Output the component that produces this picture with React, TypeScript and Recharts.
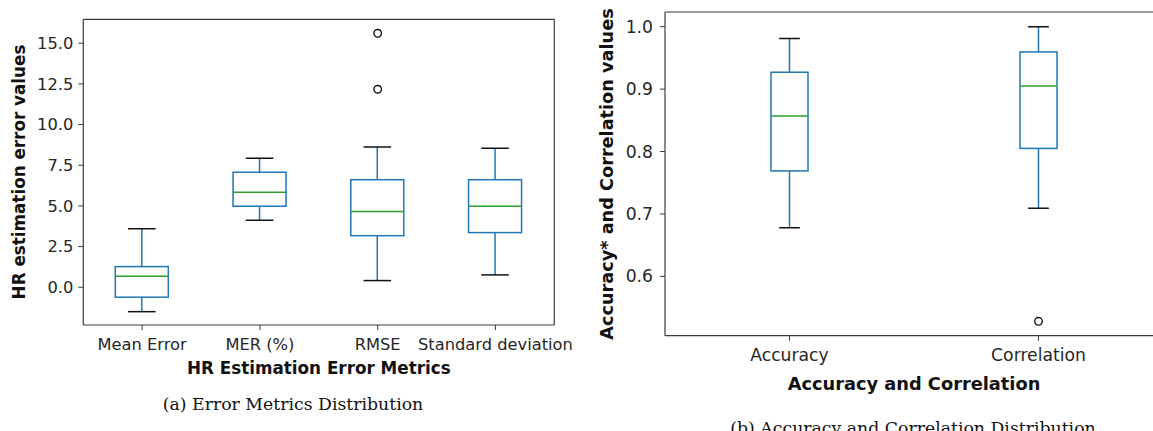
import React from 'react';
import { ComposedChart, Bar, Scatter, XAxis, YAxis, CartesianGrid } from 'recharts';

// ---------- Data: (a) HR estimation error metrics ----------
const errorCategories = ['Mean Error', 'MER (%)', 'RMSE', 'Standard deviation'];
const errorWhiskerLow = [-1.5, 4.12, 0.41, 0.76];
const errorQ1 = [-0.61, 4.98, 3.17, 3.36];
const errorMedian = [0.68, 5.84, 4.65, 4.98];
const errorQ3 = [1.27, 7.07, 6.61, 6.61];
const errorWhiskerHigh = [3.6, 7.93, 8.62, 8.54];
// outliers per category (null = none)
const errorOutlierA: (number | null)[] = [null, null, 12.17, null];
const errorOutlierB: (number | null)[] = [null, null, 15.61, null];
const errorTicks = [0, 2.5, 5, 7.5, 10, 12.5, 15];
const errorDomain: [number, number] = [-2.32, 16.47];

// ---------- Data: (b) Accuracy and correlation ----------
const accCategories = ['Accuracy', 'Correlation'];
const accWhiskerLow = [0.678, 0.709];
const accQ1 = [0.769, 0.805];
const accMedian = [0.857, 0.905];
const accQ3 = [0.927, 0.9595];
const accWhiskerHigh = [0.981, 1.0];
const accOutlierA: (number | null)[] = [null, 0.528];
const accOutlierB: (number | null)[] = [null, null];
const accTicks = [0.6, 0.7, 0.8, 0.9, 1.0];
const accDomain: [number, number] = [0.505, 1.0235];

// ---------- Text ----------
const errorXTitle = 'HR Estimation Error Metrics';
const errorYTitle = 'HR estimation error values';
const errorCaption = '(a) Error Metrics Distribution';
const accXTitle = 'Accuracy and Correlation';
const accYTitle = 'Accuracy* and Correlation values';
const accCaption = '(b) Accuracy and Correlation Distribution';

const BLUE = '#1f77b4';
const GREEN = '#2ca02c';
const FRAME = '#3a3a3a';
const TEXT = '#262626';
const SANS = 'DejaVu Sans';

type BoxRow = {
  category: string;
  low: number;
  q1: number;
  median: number;
  q3: number;
  high: number;
  range: [number, number];
  outA: number | null;
  outB: number | null;
};

function buildRows(
  cats: string[],
  low: number[],
  q1: number[],
  med: number[],
  q3: number[],
  high: number[],
  outA: (number | null)[],
  outB: (number | null)[]
): BoxRow[] {
  return cats.map((c, i) => ({
    category: c,
    low: low[i],
    q1: q1[i],
    median: med[i],
    q3: q3[i],
    high: high[i],
    range: [low[i], high[i]],
    outA: outA[i],
    outB: outB[i],
  }));
}

const errorRows = buildRows(
  errorCategories, errorWhiskerLow, errorQ1, errorMedian, errorQ3, errorWhiskerHigh, errorOutlierA, errorOutlierB
);
const accRows = buildRows(
  accCategories, accWhiskerLow, accQ1, accMedian, accQ3, accWhiskerHigh, accOutlierA, accOutlierB
);

const makeBoxShape = (capRatio: number) => (props: any) => {
  const { x, y, width, height, payload } = props;
  if (x == null || y == null || !payload) return <g />;
  const top = Math.min(y, y + height);
  const h = Math.abs(height);
  const span = payload.high - payload.low;
  const py = (v: number) => top + (h * (payload.high - v)) / span;
  const cx = x + width / 2;
  const capHalf = (width * capRatio) / 2;
  const yHigh = py(payload.high);
  const yLow = py(payload.low);
  const yQ3 = py(payload.q3);
  const yQ1 = py(payload.q1);
  const yMed = py(payload.median);
  return (
    <g>
      <line x1={cx} x2={cx} y1={yHigh} y2={yQ3} stroke={BLUE} strokeWidth={1.5} />
      <line x1={cx} x2={cx} y1={yQ1} y2={yLow} stroke={BLUE} strokeWidth={1.5} />
      <line x1={cx - capHalf} x2={cx + capHalf} y1={yHigh} y2={yHigh} stroke="#111" strokeWidth={1.5} />
      <line x1={cx - capHalf} x2={cx + capHalf} y1={yLow} y2={yLow} stroke="#111" strokeWidth={1.5} />
      <rect x={x} y={yQ3} width={width} height={yQ1 - yQ3} fill="none" stroke={BLUE} strokeWidth={1.5} />
      <line x1={x} x2={x + width} y1={yMed} y2={yMed} stroke={GREEN} strokeWidth={1.5} />
    </g>
  );
};

const makeOutlierShape = (key: 'outA' | 'outB') => (props: any) => {
  const { cx, cy, payload } = props;
  if (cx == null || cy == null || !Number.isFinite(cx) || !Number.isFinite(cy)) return <g />;
  if (payload && payload[key] == null) return <g />;
  return <circle cx={cx} cy={cy} r={3.8} fill="none" stroke="#111" strokeWidth={1.4} />;
};

const fmt1 = (v: number) => v.toFixed(1);

function BoxChart(props: {
  rows: BoxRow[];
  domain: [number, number];
  ticks: number[];
  width: number;
  height: number;
  margin: { top: number; right: number; bottom: number; left: number };
  barSize: number;
  capRatio: number;
  fontSize: number;
  yTickMargin: number;
}) {
  const { rows, domain, ticks, width, height, margin, barSize, capRatio, fontSize, yTickMargin } = props;
  const tickStyle = { fontSize, fill: TEXT, fontFamily: SANS };
  const hasA = rows.some((r) => r.outA != null);
  const hasB = rows.some((r) => r.outB != null);
  return (
    <ComposedChart width={width} height={height} data={rows} margin={margin}>
      <CartesianGrid
        stroke={FRAME}
        strokeWidth={1.2}
        horizontalCoordinatesGenerator={(p: any) => [p.offset.top]}
        verticalCoordinatesGenerator={(p: any) => [p.offset.left + p.offset.width]}
      />
      <XAxis
        dataKey="category"
        type="category"
        interval={0}
        height={60}
        tick={tickStyle}
        tickSize={5}
        tickMargin={8}
        axisLine={{ stroke: FRAME, strokeWidth: 1.2 }}
        tickLine={{ stroke: FRAME }}
      />
      <YAxis
        type="number"
        domain={domain}
        allowDataOverflow
        ticks={ticks}
        tickFormatter={fmt1}
        width={60}
        tick={tickStyle}
        tickSize={5}
        tickMargin={yTickMargin}
        axisLine={{ stroke: FRAME, strokeWidth: 1.2 }}
        tickLine={{ stroke: FRAME }}
      />
      <Bar dataKey="range" barSize={barSize} shape={makeBoxShape(capRatio)} isAnimationActive={false} />
      {hasA && <Scatter dataKey="outA" shape={makeOutlierShape('outA')} isAnimationActive={false} />}
      {hasB && <Scatter dataKey="outB" shape={makeOutlierShape('outB')} isAnimationActive={false} />}
    </ComposedChart>
  );
}

export default function App() {
  return (
    <div
      style={{
        position: 'absolute',
        left: 0,
        top: 0,
        width: 1153,
        height: 431,
        overflow: 'hidden',
        background: '#fff',
      }}
    >
      <div style={{ position: 'absolute', left: 0, top: 0 }}>
        <BoxChart
          rows={errorRows}
          domain={errorDomain}
          ticks={errorTicks}
          width={600}
          height={431}
          margin={{ top: 19.3, right: 45.7, bottom: 46, left: 23.3 }}
          barSize={53}
          capRatio={0.52}
          fontSize={16.3}
          yTickMargin={5}
        />
      </div>
      <div style={{ position: 'absolute', left: 590, top: 0 }}>
        <BoxChart
          rows={accRows}
          domain={accDomain}
          ticks={accTicks}
          width={600}
          height={431}
          margin={{ top: 12, right: 27, bottom: 35.3, left: 15 }}
          barSize={37}
          capRatio={0.56}
          fontSize={17.2}
          yTickMargin={7}
        />
      </div>
      <svg
        width={1153}
        height={431}
        style={{ position: 'absolute', left: 0, top: 0, pointerEvents: 'none' }}
      >
        <text
          x={19}
          y={172}
          transform="rotate(-90, 19, 172)"
          textAnchor="middle"
          dominantBaseline="central"
          fontFamily={SANS}
          fontWeight="bold"
          fontSize={16.8}
          fill="#111"
        >
          {errorYTitle}
        </text>
        <text
          x={318.8}
          y={368}
          textAnchor="middle"
          dominantBaseline="central"
          fontFamily={SANS}
          fontWeight="bold"
          fontSize={16.8}
          fill="#111"
        >
          {errorXTitle}
        </text>
        <text x={293} y={410} textAnchor="middle" fontFamily="DejaVu Serif" fontSize={17.3} fill="#111">
          {errorCaption}
        </text>
        <text
          x={607}
          y={174}
          transform="rotate(-90, 607, 174)"
          textAnchor="middle"
          dominantBaseline="central"
          fontFamily={SANS}
          fontWeight="bold"
          fontSize={17.7}
          fill="#111"
        >
          {accYTitle}
        </text>
        <text
          x={914}
          y={383}
          textAnchor="middle"
          dominantBaseline="central"
          fontFamily={SANS}
          fontWeight="bold"
          fontSize={17.8}
          fill="#111"
        >
          {accXTitle}
        </text>
        <text x={913} y={434} textAnchor="middle" fontFamily="DejaVu Serif" fontSize={17.3} fill="#111">
          {accCaption}
        </text>
      </svg>
    </div>
  );
}
